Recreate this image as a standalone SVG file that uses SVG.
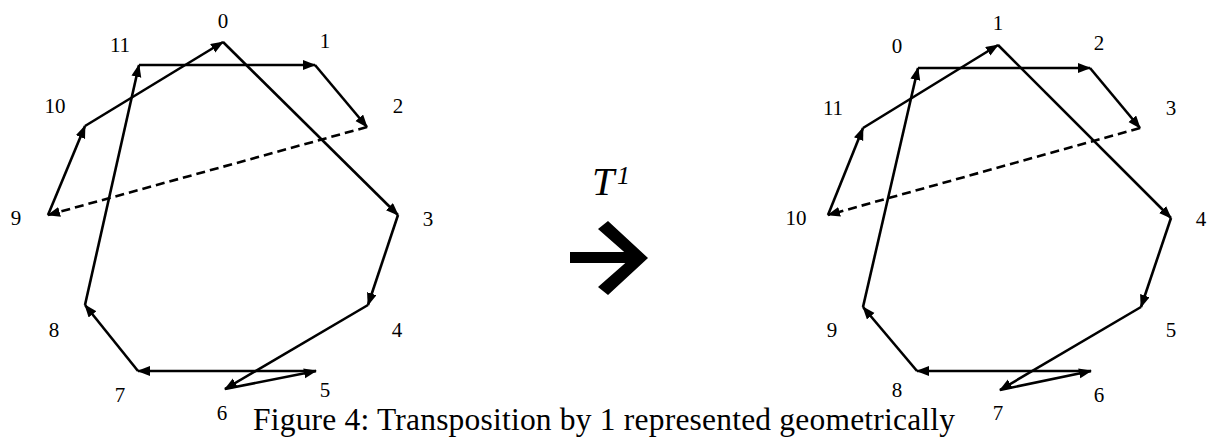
<svg xmlns="http://www.w3.org/2000/svg" width="1210" height="437" viewBox="0 0 1210 437">
<style>
.lbl{font-family:"Liberation Serif","Times New Roman",serif;font-size:21px;fill:#000;text-anchor:middle}
.cap{font-family:"Liberation Serif","Times New Roman",serif;font-size:31.5px;fill:#000}
.it{font-family:"Liberation Serif","Times New Roman",serif;font-style:italic;fill:#000}
.e{stroke:#000;stroke-width:2.6;fill:none;marker-end:url(#ah)}
.d{stroke-dasharray:9 5}
</style>
<defs>
<marker id="ah" markerUnits="userSpaceOnUse" markerWidth="14" markerHeight="11" refX="12" refY="5" orient="auto">
<path d="M0,0 L13,5 L0,10 Z" fill="#000"/>
</marker>
</defs>
<rect width="1210" height="437" fill="#fff"/>
<g id="left-nodes">
<g id="L0"><text class="lbl" x="223" y="28">0</text></g>
<g id="L1"><text class="lbl" x="325" y="48">1</text></g>
<g id="L2"><text class="lbl" x="398" y="113">2</text></g>
<g id="L3"><text class="lbl" x="428" y="226">3</text></g>
<g id="L4"><text class="lbl" x="397" y="337">4</text></g>
<g id="L5"><text class="lbl" x="325" y="397">5</text></g>
<g id="L6"><text class="lbl" x="222" y="420">6</text></g>
<g id="L7"><text class="lbl" x="120" y="402">7</text></g>
<g id="L8"><text class="lbl" x="54" y="337">8</text></g>
<g id="L9"><text class="lbl" x="16" y="225">9</text></g>
<g id="L10"><text class="lbl" x="55" y="113">10</text></g>
<g id="L11"><text class="lbl" x="120" y="52">11</text></g>
</g>
<g id="right-nodes">
<g id="R0"><text class="lbl" x="897" y="53">0</text></g>
<g id="R1"><text class="lbl" x="998" y="30">1</text></g>
<g id="R2"><text class="lbl" x="1099" y="50">2</text></g>
<g id="R3"><text class="lbl" x="1171" y="115">3</text></g>
<g id="R4"><text class="lbl" x="1201" y="226">4</text></g>
<g id="R5"><text class="lbl" x="1171" y="337">5</text></g>
<g id="R6"><text class="lbl" x="1099" y="402">6</text></g>
<g id="R7"><text class="lbl" x="998" y="420">7</text></g>
<g id="R8"><text class="lbl" x="897" y="397">8</text></g>
<g id="R9"><text class="lbl" x="832" y="337">9</text></g>
<g id="R10"><text class="lbl" x="796" y="225">10</text></g>
<g id="R11"><text class="lbl" x="833" y="115">11</text></g>
</g>
<g id="connectors">
<line class="e" x1="139" y1="65" x2="315" y2="65"/>
<line class="e" x1="315" y1="65" x2="367" y2="127"/>
<line class="e d" x1="367" y1="127" x2="48" y2="215"/>
<line class="e" x1="48" y1="215" x2="85" y2="126"/>
<line class="e" x1="85" y1="126" x2="223" y2="42"/>
<line class="e" x1="223" y1="42" x2="398" y2="215"/>
<line class="e" x1="398" y1="215" x2="368" y2="305"/>
<line class="e" x1="368" y1="305" x2="225" y2="389"/>
<line class="e" x1="225" y1="389" x2="316" y2="371"/>
<line class="e" x1="316" y1="371" x2="138" y2="371"/>
<line class="e" x1="138" y1="371" x2="85" y2="305"/>
<line class="e" x1="85" y1="305" x2="139" y2="65"/>

<line class="e" x1="918" y1="68" x2="1090" y2="68"/>
<line class="e" x1="1090" y1="68" x2="1140" y2="128"/>
<line class="e d" x1="1140" y1="128" x2="828" y2="215"/>
<line class="e" x1="828" y1="215" x2="863" y2="128"/>
<line class="e" x1="863" y1="128" x2="998" y2="45"/>
<line class="e" x1="998" y1="45" x2="1171" y2="218"/>
<line class="e" x1="1171" y1="218" x2="1141" y2="307"/>
<line class="e" x1="1141" y1="307" x2="1000" y2="390"/>
<line class="e" x1="1000" y1="390" x2="1091" y2="371"/>
<line class="e" x1="1091" y1="371" x2="917" y2="371"/>
<line class="e" x1="917" y1="371" x2="863" y2="307"/>
<line class="e" x1="863" y1="307" x2="918" y2="68"/>
</g>
<g id="transform">
<text class="it" x="592" y="195" font-size="40">T</text>
<text class="it" x="617" y="184" font-size="26">1</text>
<rect x="570" y="252" width="66" height="11" fill="#000"/>
<polygon points="598,229 608,221 648,258 608,295 598,287 631,258" fill="#000"/>
</g>
<text class="cap" x="253" y="430" textLength="702" lengthAdjust="spacing">Figure 4: Transposition by 1 represented geometrically</text>
</svg>
